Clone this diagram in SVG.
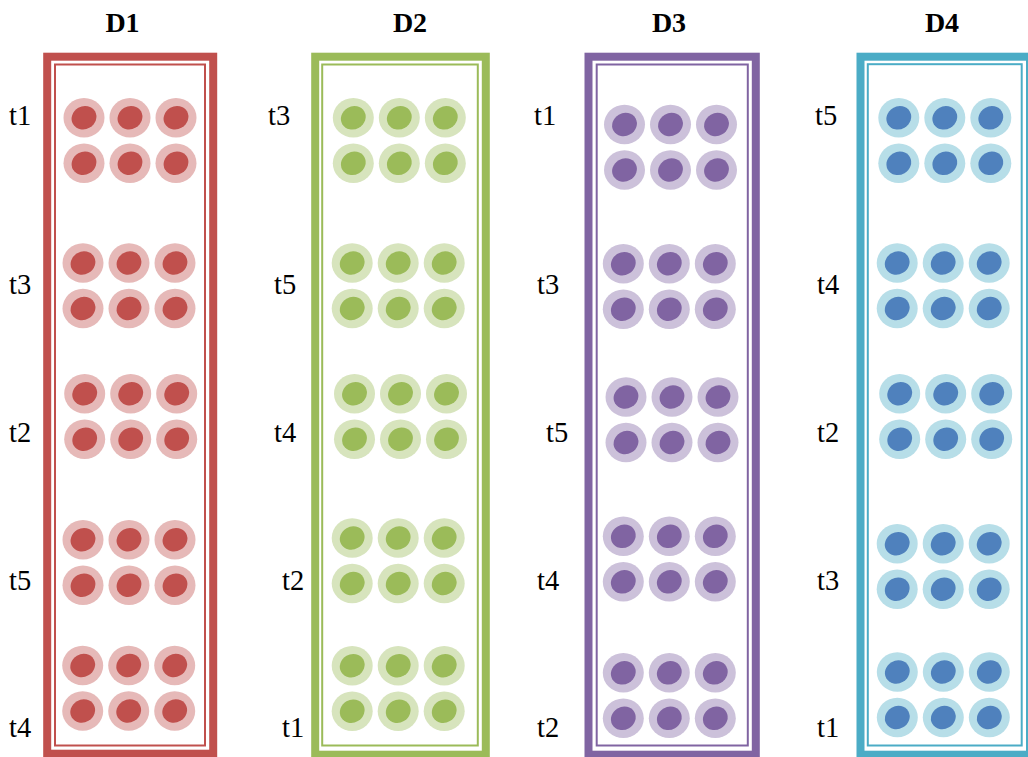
<svg xmlns="http://www.w3.org/2000/svg" xmlns:xlink="http://www.w3.org/1999/xlink" width="1028" height="757" viewBox="0 0 1028 757">
<style>
.title{font-family:"Liberation Serif","Times New Roman",serif;font-weight:bold;font-size:28px;fill:#000;text-anchor:middle}
.lbl{font-family:"Liberation Serif","Times New Roman",serif;font-size:28.5px;fill:#000}
.frame{fill:#fff;stroke-width:8}
.thin{fill:none;stroke-width:2}
</style>
<defs>
<g id="c1"><ellipse rx="20.5" ry="19.8" fill="#E6B9B8"/><ellipse rx="12.7" ry="11.4" transform="rotate(-30)" fill="#C0504D"/></g>
<g id="c2"><ellipse rx="20.5" ry="19.8" fill="#D7E4BD"/><ellipse rx="12.7" ry="11.4" transform="rotate(-30)" fill="#9BBB59"/></g>
<g id="c3"><ellipse rx="20.5" ry="19.8" fill="#CCC1DA"/><ellipse rx="12.7" ry="11.4" transform="rotate(-30)" fill="#8064A2"/></g>
<g id="c4"><ellipse rx="20.5" ry="19.8" fill="#B7DEE8"/><ellipse rx="12.7" ry="11.4" transform="rotate(-30)" fill="#4F81BD"/></g>
<g id="p1"><use href="#c1"/><use href="#c1" x="46"/><use href="#c1" x="92"/><use href="#c1" y="45.5"/><use href="#c1" x="46" y="45.5"/><use href="#c1" x="92" y="45.5"/></g>
<g id="p2"><use href="#c2"/><use href="#c2" x="46"/><use href="#c2" x="92"/><use href="#c2" y="45.5"/><use href="#c2" x="46" y="45.5"/><use href="#c2" x="92" y="45.5"/></g>
<g id="p3"><use href="#c3"/><use href="#c3" x="46"/><use href="#c3" x="92"/><use href="#c3" y="45.5"/><use href="#c3" x="46" y="45.5"/><use href="#c3" x="92" y="45.5"/></g>
<g id="p4"><use href="#c4"/><use href="#c4" x="46"/><use href="#c4" x="92"/><use href="#c4" y="45.5"/><use href="#c4" x="46" y="45.5"/><use href="#c4" x="92" y="45.5"/></g>
</defs>
<rect width="1028" height="757" fill="#fff"/>

<g id="D1">
<text class="title" x="122.5" y="32">D1</text>
<rect class="frame" x="47.2" y="56.7" width="166" height="697" stroke="#C0504D"/>
<rect class="thin" x="55" y="64.5" width="150" height="681" stroke="#C0504D"/>
<use href="#p1" x="84" y="117.7"/>
<use href="#p1" x="83" y="263"/>
<use href="#p1" x="84.7" y="393.7"/>
<use href="#p1" x="83" y="539.7"/>
<use href="#p1" x="82.7" y="665.5"/>
<text class="lbl" x="9" y="125">t1</text>
<text class="lbl" x="9" y="294">t3</text>
<text class="lbl" x="9" y="442">t2</text>
<text class="lbl" x="9" y="590">t5</text>
<text class="lbl" x="9" y="737">t4</text>
</g>

<g id="D2">
<text class="title" x="410" y="32">D2</text>
<rect class="frame" x="315.2" y="56.7" width="170.6" height="698" stroke="#9BBB59"/>
<rect class="thin" x="322.2" y="64.5" width="155.6" height="681" stroke="#9BBB59"/>
<use href="#p2" x="353.3" y="117.8"/>
<use href="#p2" x="352.2" y="263"/>
<use href="#p2" x="354.5" y="393.7"/>
<use href="#p2" x="352.2" y="538"/>
<use href="#p2" x="352.2" y="665.7"/>
<text class="lbl" x="268" y="125">t3</text>
<text class="lbl" x="274" y="294">t5</text>
<text class="lbl" x="274" y="442">t4</text>
<text class="lbl" x="282" y="590">t2</text>
<text class="lbl" x="282" y="737">t1</text>
</g>

<g id="D3">
<text class="title" x="669" y="32">D3</text>
<rect class="frame" x="588.5" y="56.7" width="167.3" height="698" stroke="#8064A2"/>
<rect class="thin" x="596.7" y="64.5" width="151.1" height="681" stroke="#8064A2"/>
<use href="#p3" x="624.5" y="124.5"/>
<use href="#p3" x="623.3" y="263.7"/>
<use href="#p3" x="626" y="397"/>
<use href="#p3" x="623.3" y="536.3"/>
<use href="#p3" x="623.3" y="672.8"/>
<text class="lbl" x="534" y="125">t1</text>
<text class="lbl" x="537" y="294">t3</text>
<text class="lbl" x="546" y="442">t5</text>
<text class="lbl" x="537" y="590">t4</text>
<text class="lbl" x="537" y="737">t2</text>
</g>

<g id="D4">
<text class="title" x="942" y="32">D4</text>
<rect class="frame" x="860.5" y="56.7" width="169.5" height="698" stroke="#4BACC6"/>
<rect class="thin" x="867.8" y="64.2" width="153.9" height="681.3" stroke="#4BACC6"/>
<use href="#p4" x="898.8" y="117.8"/>
<use href="#p4" x="897.2" y="263"/>
<use href="#p4" x="899.7" y="393.7"/>
<use href="#p4" x="897.2" y="543.7"/>
<use href="#p4" x="897.3" y="672"/>
<text class="lbl" x="815" y="125">t5</text>
<text class="lbl" x="817" y="294">t4</text>
<text class="lbl" x="817" y="442">t2</text>
<text class="lbl" x="817" y="590">t3</text>
<text class="lbl" x="817" y="737">t1</text>
</g>
</svg>
